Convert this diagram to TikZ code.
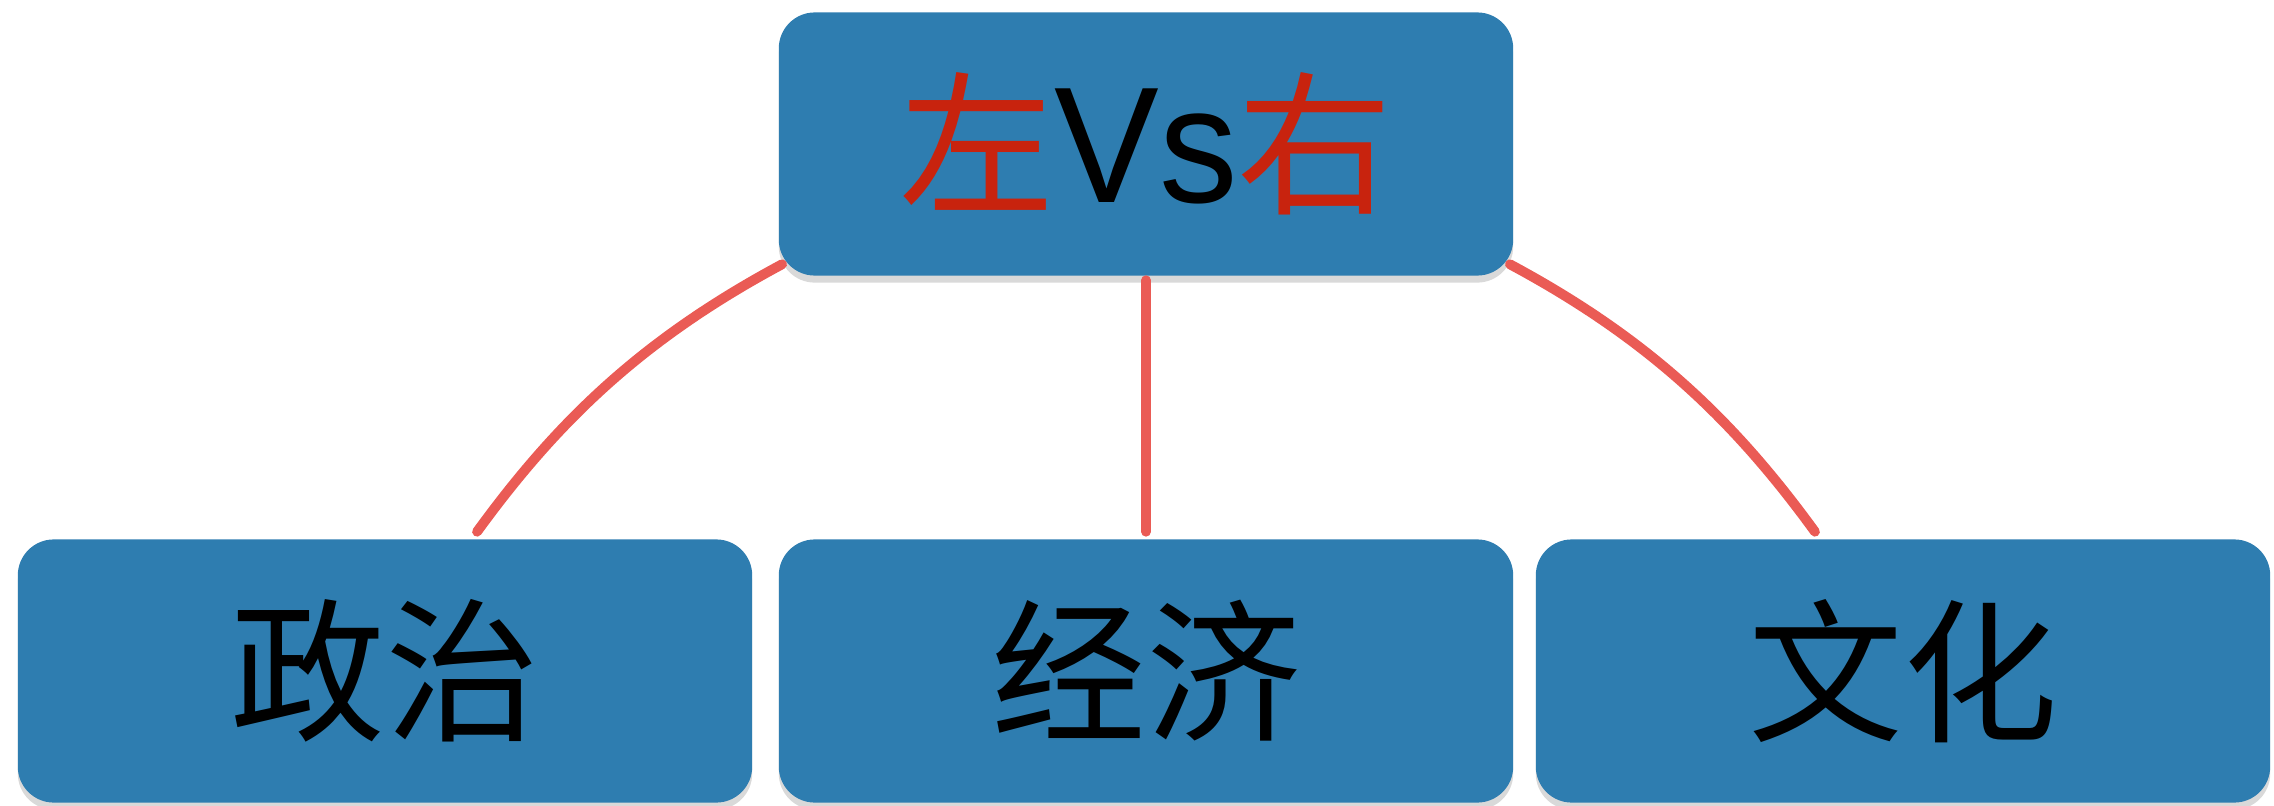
\documentclass[tikz,border=0pt]{standalone}
\usepackage{fontspec}
\setmainfont{Liberation Sans}
\newfontfamily\cjk{Noto Sans CJK SC}
\usetikzlibrary{shadows,calc}
\definecolor{boxblue}{HTML}{2E7DB0}
\definecolor{leftred}{HTML}{C8230E}
\definecolor{linkred}{HTML}{EA5B55}
\tikzset{
  card/.style={draw=none, fill=boxblue, rounded corners=0.36cm,
    minimum width=7.34cm, minimum height=2.63cm, inner sep=0pt,
    font=\fontsize{44pt}{50pt}\selectfont,
    drop shadow={shadow xshift=0pt, shadow yshift=-2pt, opacity=0.15, fill=black}},
  link/.style={draw=linkred, line width=2.8pt, line cap=round}
}
\begin{document}
\begin{tikzpicture}[x=0.01cm,y=-0.01cm]
\useasboundingbox (0,0) rectangle (2274,806);
\node[card] (top) at (1146,144) {{\cjk\textcolor{leftred}{左}}{\fontsize{47pt}{50pt}\selectfont\scalebox{0.95}[1]{Vs}}{\cjk\textcolor{leftred}{右}}};
\node[card] (pol) at (385,671) {\cjk 政治};
\node[card] (eco) at (1146,671) {\cjk 经济};
\node[card] (cul) at (1903,671) {\cjk 文化};
\draw[link] ($(top.south west)+(0.04cm,0.12cm)$) .. controls +(-1.4cm,-0.75cm) and +(0.8cm,1.1cm) .. ($(pol.north)+(0.92cm,0.07cm)$);
\draw[link] ($(top.south)+(0,-0.04cm)$) -- ($(eco.north)+(0,0.07cm)$);
\draw[link] ($(top.south east)+(-0.04cm,0.12cm)$) .. controls +(1.4cm,-0.75cm) and +(-0.8cm,1.1cm) .. ($(cul.north)+(-0.88cm,0.07cm)$);
\end{tikzpicture}
\end{document}
